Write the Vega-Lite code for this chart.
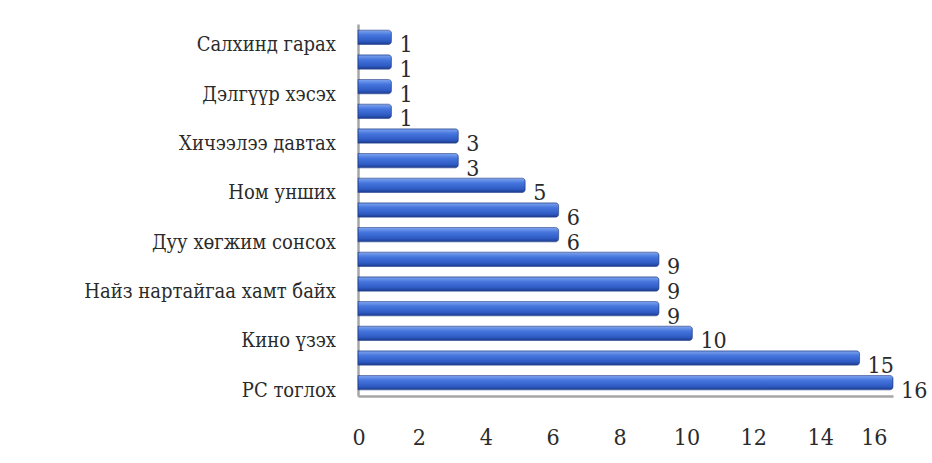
{
  "$schema": "https://vega.github.io/schema/vega-lite/v6.json",
  "autosize": "none",
  "width": 535,
  "height": 372,
  "padding": {"left": 358, "top": 24, "right": 39, "bottom": 67},
  "background": "white",
  "config": {"view": {"stroke": null}, "font": "DejaVu Serif Condensed"},
  "data": {
    "values": [
      {"id": 1, "label": "Салхинд гарах", "value": 1},
      {"id": 2, "label": "", "value": 1},
      {"id": 3, "label": "Дэлгүүр хэсэх", "value": 1},
      {"id": 4, "label": "", "value": 1},
      {"id": 5, "label": "Хичээлээ давтах", "value": 3},
      {"id": 6, "label": "", "value": 3},
      {"id": 7, "label": "Ном унших", "value": 5},
      {"id": 8, "label": "", "value": 6},
      {"id": 9, "label": "Дуу хөгжим сонсох", "value": 6},
      {"id": 10, "label": "", "value": 9},
      {"id": 11, "label": "Найз нартайгаа хамт байх", "value": 9},
      {"id": 12, "label": "", "value": 9},
      {"id": 13, "label": "Кино үзэх", "value": 10},
      {"id": 14, "label": "", "value": 15},
      {"id": 15, "label": "PC тоглох", "value": 16}
    ]
  },
  "encoding": {
    "y": {
      "field": "id", "type": "ordinal", "sort": "ascending",
      "scale": {"paddingInner": 0.42, "paddingOuter": 0.25},
      "axis": {"title": null, "labels": false, "ticks": false, "domainColor": "#a6a6a6", "domainWidth": 2.5}
    },
    "x": {
      "field": "value", "type": "quantitative",
      "scale": {"domain": [0, 16], "nice": false},
      "axis": {"title": null, "values": [0, 2, 4, 6, 8, 10, 12, 14, 16], "grid": false, "ticks": false,
        "domainColor": "#a6a6a6", "domainWidth": 2.5, "labelPadding": 30, "labelOffset": -6,
        "labelFont": "DejaVu Serif Condensed", "labelFontSize": 23, "labelColor": "#2b2b2b"}
    }
  },
  "layer": [
    {
      "mark": {
        "type": "bar", "cornerRadiusEnd": 3, "stroke": "#243f8c", "strokeWidth": 0.6,
        "color": {"gradient": "linear", "x1": 0, "y1": 0, "x2": 0, "y2": 1,
          "stops": [{"offset": 0, "color": "#7fa6f0"}, {"offset": 0.35, "color": "#4474dc"}, {"offset": 0.75, "color": "#2f5cc4"}, {"offset": 1, "color": "#1d3c8f"}]}
      }
    },
    {
      "mark": {"type": "text", "align": "left", "baseline": "middle", "dx": 8, "dy": 8, "font": "DejaVu Serif Condensed", "fontSize": 23, "color": "#2b2b2b"},
      "encoding": {"text": {"field": "value", "type": "quantitative"}}
    },
    {
      "transform": [{"filter": "datum.label != ''"}],
      "mark": {"type": "text", "align": "right", "baseline": "middle", "dx": -22, "dy": 8, "font": "DejaVu Serif Condensed", "fontSize": 20, "color": "#2b2b2b"},
      "encoding": {"x": {"datum": 0}, "text": {"field": "label"}}
    }
  ]
}
